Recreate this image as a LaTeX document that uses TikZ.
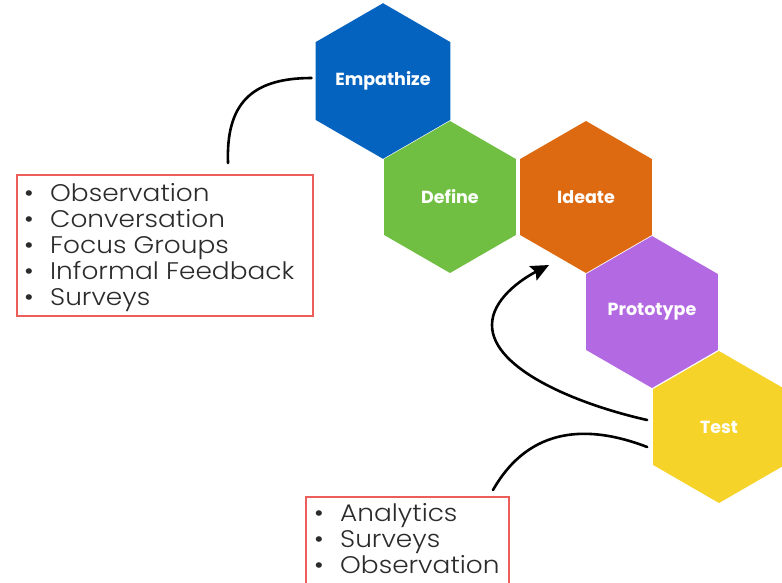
\documentclass[tikz,border=0pt]{standalone}
\usepackage{fontspec}
\usetikzlibrary{shapes.geometric,arrows.meta,calc}
\newfontfamily\hexfont{Poppins}
\newfontfamily\listfont{Poppins Light}[FakeStretch=1.1]
\definecolor{empblue}{HTML}{0563C0}
\definecolor{defgreen}{HTML}{70BF43}
\definecolor{ideorange}{HTML}{DD6A11}
\definecolor{propurple}{HTML}{B369E1}
\definecolor{testyellow}{HTML}{F5D328}
\definecolor{boxred}{HTML}{EB5E5A}
\definecolor{listgray}{HTML}{2B2B2B}
\tikzset{
  hexa/.style={regular polygon, regular polygon sides=6, shape border rotate=30,
    minimum size=152pt, inner sep=0pt, outer sep=0pt, text=white,
    font=\hexfont\bfseries\fontsize{17.5}{19}\selectfont},
  listbox/.style={draw=boxred, line width=2.4pt, inner sep=0pt, outer sep=0pt},
  listtext/.style={anchor=north west, inner sep=0pt, align=left, text=listgray,
    font=\listfont\fontsize{24}{26}\selectfont},
  sketch/.style={line width=2.6pt, line cap=round, black},
}
\newcommand{\blt}[1]{\makebox[26pt][l]{\textbullet}#1}
\begin{document}
\begin{tikzpicture}[x=1pt,y=-1pt]
\useasboundingbox (0,0) rectangle (782,582);
\clip (0,0) rectangle (782,582);
% hexagons
\node[hexa, fill=empblue] (emp) at (383,81) {Empathize};
\node[hexa, fill=defgreen] (def) at (450,197) {Define};
\node[hexa, fill=ideorange] (ide) at (586,197) {Ideate};
\node[hexa, fill=propurple] (pro) at (652,312) {Prototype};
\node[hexa, fill=testyellow] (tst) at (719,427) {Test};
% boxes
\node[listbox, minimum width=296pt, minimum height=141pt] (b1) at (165,245.5) {};
\node[listtext] (b1t) at (24,183) {\blt{Observation}\\\blt{Conversation}\\\blt{Focus Groups}\\\blt{Informal Feedback}\\\blt{Surveys}};
\node[listbox, minimum width=203pt, minimum height=120pt] (b2) at (407.5,557) {};
\node[listtext] (b2t) at (314,503) {\blt{Analytics}\\\blt{Surveys}\\\blt{Observation}};
% connector end points
\coordinate (c1s) at ($(b1.north)+(63,-12)$);
\coordinate (c1e) at ($(emp.west)+(-4,-3)$);
\coordinate (c2s) at ($(tst.west)+(-6,-7)$);
\coordinate (c2e) at ($(ide.south)+(-37,-8)$);
\coordinate (c3s) at ($(tst.west)+(-6,20)$);
\coordinate (c3e) at ($(b2.north)+(85.5,-7)$);
% connectors
\draw[sketch] (c1s) .. controls (226,105) and (250,78) .. (c1e);
\draw[sketch, -{Stealth[length=18pt,width=16pt,inset=3pt]}] (c2s) .. controls (580,405) and (492,370) .. (492,325) .. controls (492,300) and (520,280) .. (c2e);
\draw[sketch] (c3s) .. controls (590,425) and (530,425) .. (c3e);
\end{tikzpicture}
\end{document}
